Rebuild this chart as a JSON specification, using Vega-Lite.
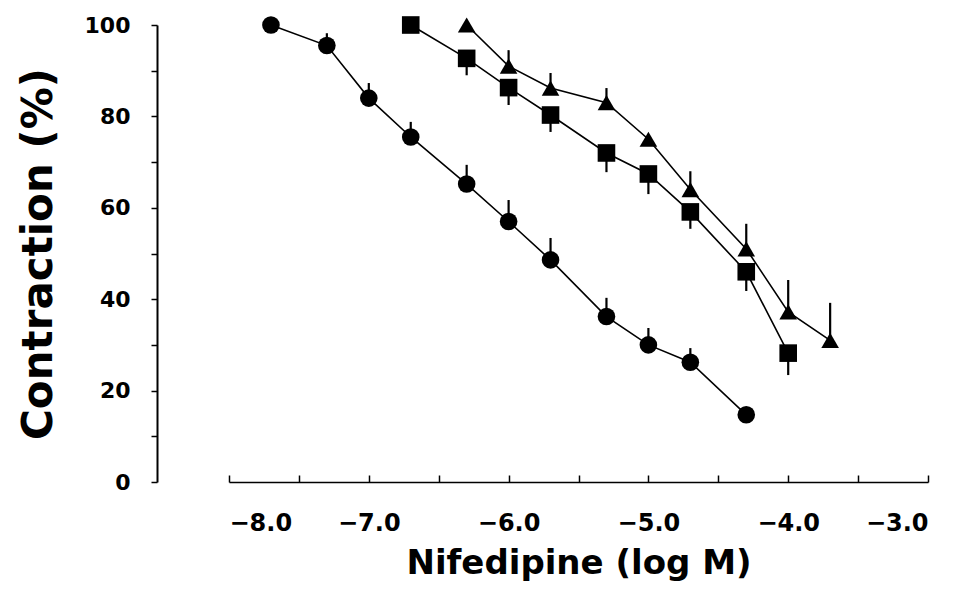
{
  "$schema": "https://vega.github.io/schema/vega-lite/v6.json",
  "autosize": {"type": "none"},
  "width": 699,
  "height": 457,
  "padding": {"left": 229, "top": 25, "right": 36, "bottom": 123},
  "background": "white",
  "config": {
    "view": {"stroke": null},
    "axis": {"grid": false, "tickColor": "black", "labelColor": "black", "titleColor": "black", "labelFont": "DejaVu Sans", "titleFont": "DejaVu Sans", "labelFontWeight": "bold", "titleFontWeight": "bold"}
  },
  "data": {
    "values": [
      {"series": "A", "x": -7.7, "y": 100, "err": null},
      {"series": "A", "x": -7.3, "y": 95.5, "err": 98.2},
      {"series": "A", "x": -7.0, "y": 84, "err": 87.3},
      {"series": "A", "x": -6.7, "y": 75.5, "err": 78.8},
      {"series": "A", "x": -6.3, "y": 65.2, "err": 69.4},
      {"series": "A", "x": -6.0, "y": 57, "err": 61.7},
      {"series": "A", "x": -5.7, "y": 48.6, "err": 53.4},
      {"series": "A", "x": -5.3, "y": 36.2, "err": 40.3},
      {"series": "A", "x": -5.0, "y": 30, "err": 33.7},
      {"series": "A", "x": -4.7, "y": 26.2, "err": 29.3},
      {"series": "A", "x": -4.3, "y": 14.7, "err": null},
      {"series": "B", "x": -6.7, "y": 100, "err": null},
      {"series": "B", "x": -6.3, "y": 92.7, "err": 89},
      {"series": "B", "x": -6.0, "y": 86.3, "err": 82.5},
      {"series": "B", "x": -5.7, "y": 80.3, "err": 76.6},
      {"series": "B", "x": -5.3, "y": 72, "err": 67.8},
      {"series": "B", "x": -5.0, "y": 67.4, "err": 63},
      {"series": "B", "x": -4.7, "y": 59.1, "err": 55.4},
      {"series": "B", "x": -4.3, "y": 46, "err": 41.8},
      {"series": "B", "x": -4.0, "y": 28.2, "err": 23.4},
      {"series": "C", "x": -6.3, "y": 100, "err": null},
      {"series": "C", "x": -6.0, "y": 91, "err": 94.5},
      {"series": "C", "x": -5.7, "y": 86.2, "err": 89.5},
      {"series": "C", "x": -5.3, "y": 83, "err": 86.2},
      {"series": "C", "x": -5.0, "y": 75, "err": null},
      {"series": "C", "x": -4.7, "y": 64, "err": 68},
      {"series": "C", "x": -4.3, "y": 51, "err": 56.5},
      {"series": "C", "x": -4.0, "y": 37.2, "err": 44.2},
      {"series": "C", "x": -3.7, "y": 31, "err": 39.2}
    ]
  },
  "encoding": {
    "x": {
      "field": "x", "type": "quantitative",
      "scale": {"domain": [-8, -3], "nice": false, "zero": false},
      "axis": {
        "title": "Nifedipine  (log M)",
        "values": [-8, -7.5, -7, -6.5, -6, -5.5, -5, -4.5, -4, -3.5, -3],
        "format": ".1f",
        "labelExpr": "datum.value % 1 == 0 ? datum.label : ''",
        "domain": true, "domainColor": "black",
        "tickSize": -7, "tickWidth": 1.5, "domainWidth": 1.5,
        "labelPadding": 36, "labelFontSize": 24,
        "titleFontSize": 34, "titlePadding": 11
      }
    },
    "y": {
      "field": "y", "type": "quantitative",
      "scale": {"domain": [0, 100], "nice": false},
      "axis": {
        "title": "Contraction  (%)",
        "values": [0, 10, 20, 30, 40, 50, 60, 70, 80, 90, 100],
        "labelExpr": "datum.value % 20 == 0 ? datum.label : ''",
        "domain": true, "domainColor": "#000000", "domainOpacity": 1, "domainWidth": 2,
        "offset": 72,
        "tickSize": 6, "tickWidth": 1.5,
        "labelPadding": 21, "labelFontSize": 22,
        "titleFontSize": 42, "titlePadding": 24
      }
    }
  },
  "layer": [
    {
      "mark": {"type": "line", "color": "black", "strokeWidth": 1.6},
      "encoding": {"detail": {"field": "series"}}
    },
    {
      "transform": [{"filter": "datum.err != null"}],
      "mark": {"type": "rule", "color": "black", "strokeWidth": 2.2},
      "encoding": {"y2": {"field": "err"}}
    },
    {
      "mark": {"type": "point", "filled": true, "opacity": 1, "color": "black", "size": 310},
      "encoding": {
        "shape": {
          "field": "series", "type": "nominal",
          "scale": {"domain": ["A", "B", "C"], "range": ["circle", "square", "triangle-up"]},
          "legend": null
        }
      }
    }
  ]
}
